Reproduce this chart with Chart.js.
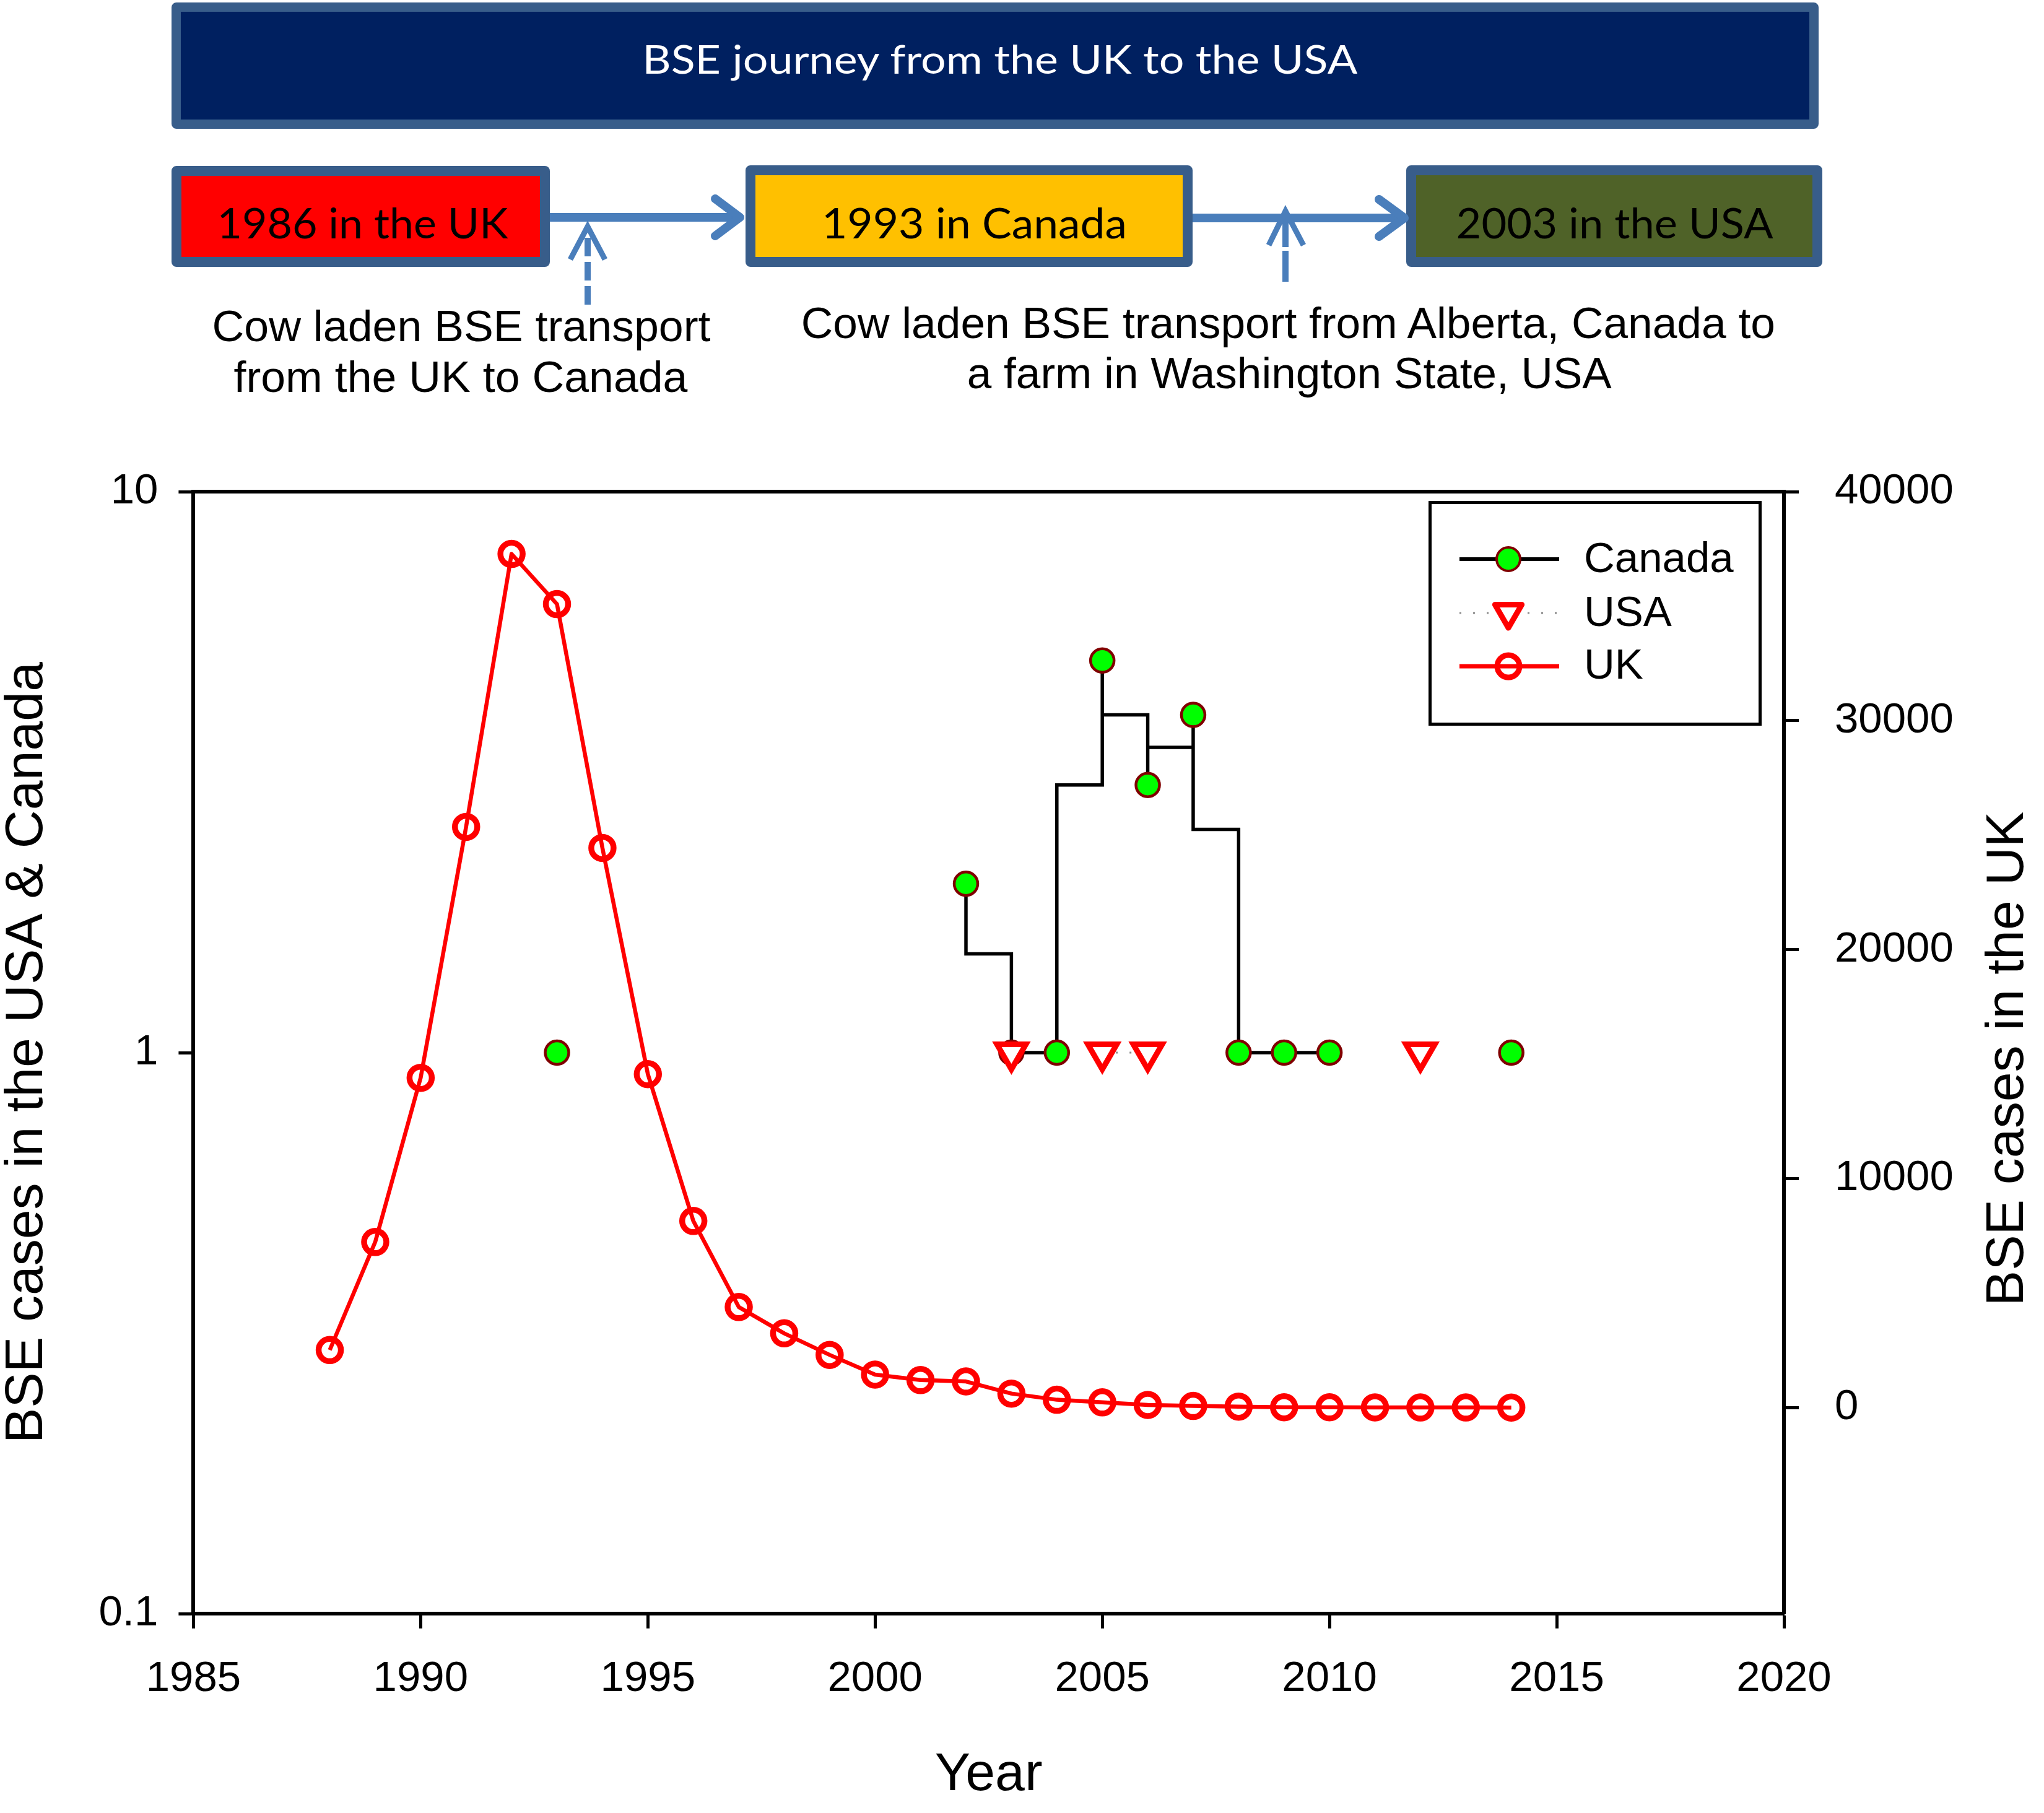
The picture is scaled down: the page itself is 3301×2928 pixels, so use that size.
<!DOCTYPE html>
<html>
<head>
<meta charset="utf-8">
<script src="https://cdn.jsdelivr.net/npm/chart.js@4.4.1/dist/chart.umd.min.js"></script>
<style>
html,body{margin:0;padding:0;background:#fff;}
body{width:3301px;height:2928px;position:relative;overflow:hidden;}
#c{position:absolute;left:0;top:0;}
.box{position:absolute;box-sizing:border-box;border-style:solid;border-color:#385D8A;border-radius:8px;}
.t{position:absolute;white-space:nowrap;line-height:1;transform-origin:50% 50%;}
</style>
</head>
<body>
<canvas id="c" width="3301" height="2928"></canvas>

<div class="box" style="left:277px;top:4px;width:2660px;height:204px;border-width:15px;background:#002060;"></div>
<div class="box" style="left:277px;top:268px;width:611px;height:163px;border-width:16px;background:#ff0000;"></div>
<div class="box" style="left:1204px;top:267px;width:722px;height:164px;border-width:16px;background:#ffc000;"></div>
<div class="box" style="left:2271px;top:267px;width:672px;height:164px;border-width:16px;background:#4f6228;"></div>

<svg width="3301" height="700" style="position:absolute;left:0;top:0;">
  <g stroke="#4A7EBB" fill="none">
    <line x1="888" y1="351" x2="1192" y2="351" stroke-width="14"/>
    <polyline points="1155,321 1195,351 1155,381" stroke-width="14" stroke-linecap="round" stroke-linejoin="round"/>
    <line x1="1926" y1="352" x2="2266" y2="352" stroke-width="14"/>
    <polyline points="2227,322 2268,352 2227,382" stroke-width="14" stroke-linecap="round" stroke-linejoin="round"/>
    <line x1="949" y1="492" x2="949" y2="372" stroke-width="10" stroke-dasharray="30 9"/>
    <polyline points="921,419 949,366 977,419" stroke-width="9"/>
    <line x1="2076" y1="455" x2="2076" y2="352" stroke-width="10" stroke-dasharray="50 6"/>
    <polyline points="2049,396 2076,341 2105,396" stroke-width="9"/>
  </g>
</svg>

<script>
// ---------------- data ----------------
const ukYears = [1988,1989,1990,1991,1992,1993,1994,1995,1996,1997,1998,1999,2000,2001,2002,2003,2004,2005,2006,2007,2008,2009,2010,2011,2012,2013,2014];
const ukCases = [2510,7230,14400,25360,37280,35090,24440,14560,8150,4390,3240,2300,1440,1200,1140,610,340,225,115,70,40,12,11,7,3,3,1];

const canadaYears = [1993,2002,2003,2004,2005,2006,2007,2008,2009,2010,2014];
const canadaCases = [1,2,1,1,5,3,4,1,1,1,1];

// connected run of the Canada step line and the horizontal step levels read between consecutive years
const canadaStepYears  = [2002,2003,2004,2005,2006,2007,2008,2009,2010];
const canadaStepLevels = [1.5,1,3,4,3.5,2.5,1,1];

const usaYears = [2003,2005,2006,2012];
const usaCases = [1,1,1,1];

const xTicks = [1985,1990,1995,2000,2005,2010,2015,2020];
const leftTicks = [0.1,1,10];
const rightTicks = [0,10000,20000,30000,40000];

// ---------------- build datasets ----------------
const ukData = ukYears.map((yr,i)=>({x:yr,y:ukCases[i]}));
const canadaData = canadaYears.map((yr,i)=>({x:yr,y:canadaCases[i]}));

const stepPts = [];
canadaStepYears.forEach((yr,i)=>{
  const v = canadaCases[canadaYears.indexOf(yr)];
  if (i>0) stepPts.push({x:yr,y:canadaStepLevels[i-1]});
  stepPts.push({x:yr,y:v});
  if (i<canadaStepLevels.length) stepPts.push({x:yr,y:canadaStepLevels[i]});
});

const usaData = [];
usaYears.forEach((yr,i)=>{
  usaData.push({x:yr,y:usaCases[i]});
  if (i<usaYears.length-1 && usaYears[i+1]!==yr+1) usaData.push({x:yr+1,y:null});
});

const FONT = "'Liberation Sans', Arial, sans-serif";
Chart.defaults.color = '#000';
Chart.defaults.font.family = FONT;

const framePlugin = {
  id:'frame',
  afterDraw(chart){
    const ctx = chart.ctx, a = chart.chartArea;
    ctx.save();
    // top frame line
    ctx.strokeStyle='#000'; ctx.lineWidth=6; ctx.lineCap='butt';
    ctx.beginPath(); ctx.moveTo(a.left-3,a.top); ctx.lineTo(a.right+3,a.top); ctx.stroke();

    // right axis title (reads bottom to top)
    ctx.save();
    ctx.translate(3243,1710); ctx.rotate(-Math.PI/2);
    ctx.font = "86px "+FONT; ctx.fillStyle='#000';
    ctx.textAlign='center'; ctx.textBaseline='middle';
    ctx.fillText('BSE cases in the UK',0,0);
    ctx.restore();

    // legend
    ctx.lineWidth=5; ctx.strokeStyle='#000';
    ctx.strokeRect(2309.5,811.5,533,358);
    const lx1=2357, lx2=2518, mx=2436;
    // Canada
    ctx.lineWidth=6; ctx.strokeStyle='#000'; ctx.setLineDash([]);
    ctx.beginPath(); ctx.moveTo(lx1,903); ctx.lineTo(lx2,903); ctx.stroke();
    ctx.beginPath(); ctx.arc(mx,903,19,0,Math.PI*2);
    ctx.fillStyle='#00ff00'; ctx.fill(); ctx.lineWidth=4; ctx.strokeStyle='#800000'; ctx.stroke();
    // USA
    ctx.lineWidth=3; ctx.strokeStyle='#8c8c8c'; ctx.setLineDash([3,19]);
    ctx.beginPath(); ctx.moveTo(lx1,990); ctx.lineTo(lx2,990); ctx.stroke();
    ctx.setLineDash([]);
    const r=25, cy=989;
    ctx.beginPath();
    ctx.moveTo(mx, cy+r);
    ctx.lineTo(mx - r*Math.sin(Math.PI/3), cy - r/2);
    ctx.lineTo(mx + r*Math.sin(Math.PI/3), cy - r/2);
    ctx.closePath();
    ctx.fillStyle='#fff'; ctx.fill(); ctx.lineWidth=9; ctx.strokeStyle='#ff0000'; ctx.lineJoin='round'; ctx.stroke();
    // UK
    ctx.lineWidth=7; ctx.strokeStyle='#ff0000';
    ctx.beginPath(); ctx.moveTo(lx1,1076); ctx.lineTo(lx2,1076); ctx.stroke();
    ctx.beginPath(); ctx.arc(mx,1076,18,0,Math.PI*2); ctx.lineWidth=9; ctx.stroke();
    // labels
    ctx.font="69px "+FONT; ctx.fillStyle='#000'; ctx.textAlign='left'; ctx.textBaseline='middle';
    ctx.fillText('Canada',2558,905);
    ctx.fillText('USA',2558,992);
    ctx.fillText('UK',2558,1077);
    ctx.restore();
  }
};

const tickFont = {family:FONT,size:69,lineHeight:1.2};
const gridOpts = {drawOnChartArea:false,drawTicks:true,tickLength:24,tickWidth:5,tickColor:'#000'};
const borderOpts = {display:true,color:'#000',width:6};

new Chart(document.getElementById('c'),{
  type:'line',
  data:{datasets:[
    {label:'USA',data:usaData,yAxisID:'y',borderColor:'#8c8c8c',borderWidth:3,borderDash:[3,19],spanGaps:false,
     pointStyle:'triangle',pointRotation:180,pointRadius:27,pointBorderWidth:9,pointBackgroundColor:'#ffffff',pointBorderColor:'#ff0000',tension:0},
    {label:'Canada',data:canadaData,yAxisID:'y',showLine:false,pointStyle:'circle',pointRadius:19,pointBorderWidth:4.5,
     pointBackgroundColor:'#00ff00',pointBorderColor:'#800000'},
    {label:'Canada step',data:stepPts,yAxisID:'y',borderColor:'#000',borderWidth:5.5,pointRadius:0,tension:0,
     borderJoinStyle:'miter',borderCapStyle:'butt'},
    {label:'UK',data:ukData,yAxisID:'yR',borderColor:'#ff0000',borderWidth:6.5,borderJoinStyle:'round',tension:0,
     pointStyle:'circle',pointRadius:18,pointBorderWidth:9.5,pointBackgroundColor:'rgba(0,0,0,0)',pointBorderColor:'#ff0000'}
  ]},
  options:{
    responsive:false,maintainAspectRatio:false,devicePixelRatio:1,animation:false,
    layout:{padding:{top:794,left:0,right:0,bottom:0}},
    plugins:{legend:{display:false},tooltip:{enabled:false},title:{display:false}},
    events:[],
    scales:{
      x:{type:'linear',position:'bottom',min:1985,max:2020,
        afterBuildTicks:s=>{s.ticks=xTicks.map(v=>({value:v}));},
        afterFit:s=>{s.height=322;},
        ticks:{callback:v=>String(v),font:tickFont,color:'#000',padding:41,maxRotation:0,autoSkip:false},
        grid:gridOpts,border:borderOpts,
        title:{display:true,text:'Year',color:'#000',font:{family:FONT,size:86,lineHeight:1},padding:{top:0,bottom:18}}
      },
      y:{type:'logarithmic',position:'left',min:0.1,max:10,
        afterBuildTicks:s=>{s.ticks=leftTicks.map(v=>({value:v}));},
        afterFit:s=>{s.width=312.4;},
        ticks:{callback:v=>String(v),font:tickFont,color:'#000',padding:33,autoSkip:false},
        grid:gridOpts,border:borderOpts,
        title:{display:true,text:'BSE cases in the USA & Canada',color:'#000',font:{family:FONT,size:86,lineHeight:1},padding:{top:1,bottom:0}}
      },
      yR:{type:'linear',position:'right',min:-9000,max:40000,
        afterBuildTicks:s=>{s.ticks=rightTicks.map(v=>({value:v}));},
        afterFit:s=>{s.width=420;},
        ticks:{callback:v=>String(v),font:tickFont,color:'#000',padding:58,autoSkip:false},
        grid:gridOpts,border:borderOpts
      }
    }
  },
  plugins:[framePlugin]
});

// ---------------- diagram texts ----------------
function placeText(txt,cx,cy,family,size,color,targetW){
  const d=document.createElement('div');
  d.className='t';
  d.textContent=txt;
  d.style.fontFamily=family;
  d.style.fontSize=size+'px';
  d.style.color=color;
  document.body.appendChild(d);
  const w=d.getBoundingClientRect().width;
  let s=targetW/w; if(s<0.8)s=0.8; if(s>1.2)s=1.2;
  d.style.left=(cx-w/2)+'px';
  d.style.top=(cy-size/2)+'px';
  d.style.transform='scaleX('+s.toFixed(4)+')';
}
const CAL="Lato, 'Open Sans', sans-serif";
placeText('BSE journey from the UK to the USA',1615,95,CAL,63.5,'#ffffff',1155);
placeText('1986 in the UK',585,359,CAL,67,'#000',470);
placeText('1993 in Canada',1573,359,CAL,67,'#000',493);
placeText('2003 in the USA',2608,359,CAL,67,'#000',512);
placeText('Cow laden BSE transport',745,527,FONT,70,'#000',805);
placeText('from the UK to Canada',744,609,FONT,70,'#000',733);
placeText('Cow laden BSE transport from Alberta, Canada to',2080,522,FONT,70,'#000',1573);
placeText('a farm in Washington State, USA',2082,603,FONT,70,'#000',1041);
</script>
</body>
</html>
